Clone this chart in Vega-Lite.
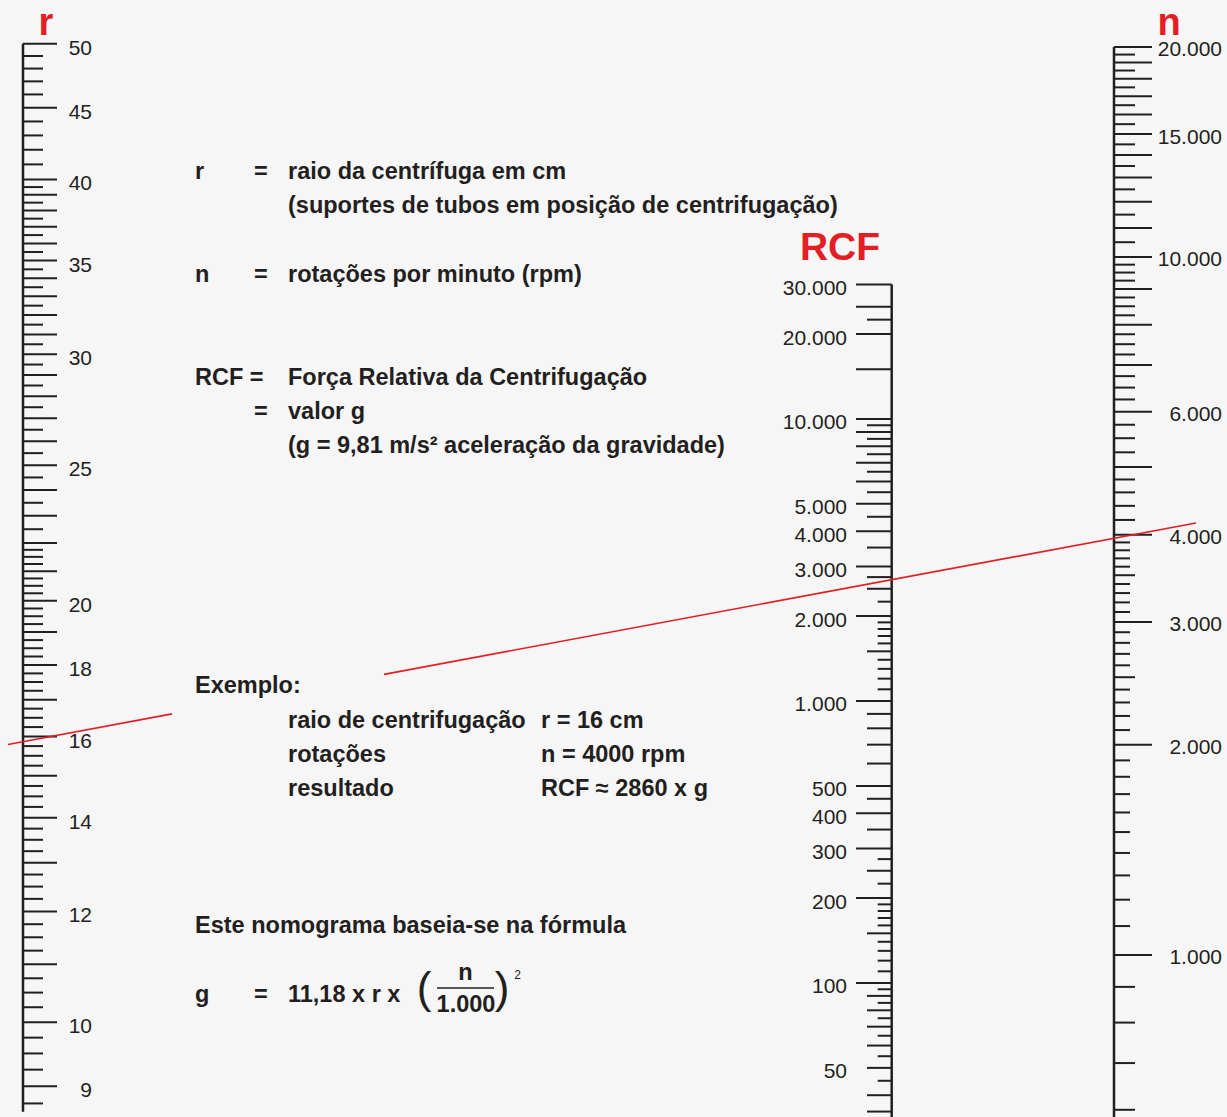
{
  "$schema": "https://vega.github.io/schema/vega-lite/v6.json",
  "width": 1227,
  "height": 1117,
  "padding": 0,
  "autosize": {"type": "none"},
  "background": "#f6f6f6",
  "config": {"view": {"stroke": null}, "text": {"font": "Liberation Sans", "color": "#231f20"}},
  "datasets": {
    "rTicks": [
      {"v":50,"k":"L"},{"v":45,"k":"L"},{"v":40,"k":"L"},{"v":39,"k":"L"},{"v":38,"k":"L"},{"v":37,"k":"L"},{"v":36,"k":"L"},{"v":35,"k":"L"},{"v":34,"k":"L"},{"v":33,"k":"L"},{"v":32,"k":"L"},{"v":31,"k":"L"},{"v":30,"k":"L"},{"v":29,"k":"L"},{"v":28,"k":"L"},{"v":27,"k":"L"},{"v":26,"k":"L"},{"v":25,"k":"L"},{"v":24,"k":"L"},{"v":23,"k":"L"},{"v":22,"k":"L"},{"v":21,"k":"L"},{"v":20,"k":"L"},{"v":19,"k":"L"},{"v":18,"k":"L"},{"v":17,"k":"L"},{"v":16,"k":"L"},{"v":15,"k":"L"},{"v":14,"k":"L"},{"v":13,"k":"L"},{"v":12,"k":"L"},{"v":11,"k":"L"},{"v":10,"k":"L"},{"v":9,"k":"L"},
      {"v":49,"k":"S"},{"v":48,"k":"S"},{"v":47,"k":"S"},{"v":46,"k":"S"},{"v":44,"k":"S"},{"v":43,"k":"S"},{"v":42,"k":"S"},{"v":41,"k":"S"},
      {"v":39.5,"k":"S"},{"v":38.5,"k":"S"},{"v":37.5,"k":"S"},{"v":36.5,"k":"S"},{"v":35.5,"k":"S"},{"v":34.5,"k":"S"},{"v":33.5,"k":"S"},{"v":32.5,"k":"S"},{"v":31.5,"k":"S"},{"v":30.5,"k":"S"},{"v":29.5,"k":"S"},{"v":28.5,"k":"S"},{"v":27.5,"k":"S"},{"v":26.5,"k":"S"},{"v":25.5,"k":"S"},{"v":24.5,"k":"S"},{"v":23.5,"k":"S"},{"v":22.5,"k":"S"},
      {"v":21.75,"k":"S"},{"v":21.5,"k":"S"},{"v":21.25,"k":"S"},{"v":20.75,"k":"S"},{"v":20.5,"k":"S"},{"v":20.25,"k":"S"},{"v":19.75,"k":"S"},{"v":19.5,"k":"S"},{"v":19.25,"k":"S"},{"v":18.75,"k":"S"},{"v":18.5,"k":"S"},{"v":18.25,"k":"S"},{"v":17.75,"k":"S"},{"v":17.5,"k":"S"},{"v":17.25,"k":"S"},{"v":16.75,"k":"S"},{"v":16.5,"k":"S"},{"v":16.25,"k":"S"},{"v":15.75,"k":"S"},{"v":15.5,"k":"S"},{"v":15.25,"k":"S"},{"v":14.75,"k":"S"},{"v":14.5,"k":"S"},{"v":14.25,"k":"S"},{"v":13.75,"k":"S"},{"v":13.5,"k":"S"},{"v":13.25,"k":"S"},{"v":12.75,"k":"S"},{"v":12.5,"k":"S"},{"v":12.25,"k":"S"},{"v":11.75,"k":"S"},{"v":11.5,"k":"S"},{"v":11.25,"k":"S"},{"v":10.75,"k":"S"},{"v":10.5,"k":"S"},{"v":10.25,"k":"S"},{"v":9.75,"k":"S"},{"v":9.5,"k":"S"},{"v":9.25,"k":"S"},{"v":8.75,"k":"S"}
    ],
    "rLabels": [
      {"v":50,"t":"50"},{"v":45,"t":"45"},{"v":40,"t":"40"},{"v":35,"t":"35"},{"v":30,"t":"30"},{"v":25,"t":"25"},{"v":20,"t":"20"},{"v":18,"t":"18"},{"v":16,"t":"16"},{"v":14,"t":"14"},{"v":12,"t":"12"},{"v":10,"t":"10"},{"v":9,"t":"9"}
    ],
    "cTicks": [
      {"v":30000,"k":"L"},{"v":25000,"k":"L"},{"v":20000,"k":"L"},{"v":15000,"k":"L"},{"v":10000,"k":"L"},{"v":9000,"k":"L"},{"v":8000,"k":"L"},{"v":7000,"k":"L"},{"v":6000,"k":"L"},{"v":5000,"k":"L"},{"v":4000,"k":"L"},{"v":3000,"k":"L"},{"v":2000,"k":"L"},{"v":1000,"k":"L"},{"v":500,"k":"L"},{"v":400,"k":"L"},{"v":300,"k":"L"},{"v":200,"k":"L"},{"v":100,"k":"L"},
      {"v":22500,"k":"M"},{"v":9500,"k":"M"},{"v":8500,"k":"M"},{"v":7500,"k":"M"},{"v":6500,"k":"M"},{"v":5500,"k":"M"},{"v":4500,"k":"M"},{"v":3500,"k":"M"},{"v":2750,"k":"M"},{"v":2500,"k":"M"},{"v":1500,"k":"M"},{"v":900,"k":"M"},{"v":800,"k":"M"},{"v":700,"k":"M"},{"v":600,"k":"M"},{"v":450,"k":"M"},{"v":350,"k":"M"},{"v":250,"k":"M"},{"v":150,"k":"M"},{"v":90,"k":"M"},{"v":80,"k":"M"},{"v":70,"k":"M"},{"v":60,"k":"M"},{"v":50,"k":"M"},{"v":40,"k":"M"},{"v":35,"k":"M"},
      {"v":2250,"k":"S"},{"v":1900,"k":"S"},{"v":1800,"k":"S"},{"v":1700,"k":"S"},{"v":1600,"k":"S"},{"v":1400,"k":"S"},{"v":1300,"k":"S"},{"v":1200,"k":"S"},{"v":1100,"k":"S"},{"v":275,"k":"S"},{"v":225,"k":"S"},{"v":190,"k":"S"},{"v":180,"k":"S"},{"v":170,"k":"S"},{"v":160,"k":"S"},{"v":140,"k":"S"},{"v":130,"k":"S"},{"v":120,"k":"S"},{"v":110,"k":"S"},{"v":95,"k":"S"},{"v":85,"k":"S"},{"v":75,"k":"S"},{"v":65,"k":"S"},{"v":55,"k":"S"},{"v":45,"k":"S"}
    ],
    "cLabels": [
      {"v":30000,"t":"30.000"},{"v":20000,"t":"20.000"},{"v":10000,"t":"10.000"},{"v":5000,"t":"5.000"},{"v":4000,"t":"4.000"},{"v":3000,"t":"3.000"},{"v":2000,"t":"2.000"},{"v":1000,"t":"1.000"},{"v":500,"t":"500"},{"v":400,"t":"400"},{"v":300,"t":"300"},{"v":200,"t":"200"},{"v":100,"t":"100"},{"v":50,"t":"50"}
    ],
    "nTicks": [
      {"v":20000,"k":"L"},{"v":19000,"k":"L"},{"v":18000,"k":"L"},{"v":17000,"k":"L"},{"v":16000,"k":"L"},{"v":15000,"k":"L"},{"v":14000,"k":"L"},{"v":13000,"k":"L"},{"v":12000,"k":"L"},{"v":11000,"k":"L"},{"v":10000,"k":"L"},{"v":9000,"k":"L"},{"v":8000,"k":"L"},{"v":7000,"k":"L"},{"v":6000,"k":"L"},{"v":5000,"k":"L"},{"v":4000,"k":"L"},{"v":3000,"k":"L"},{"v":2000,"k":"L"},{"v":1000,"k":"L"},
      {"v":19500,"k":"S"},{"v":18500,"k":"S"},{"v":17500,"k":"S"},{"v":16500,"k":"S"},{"v":15500,"k":"S"},{"v":14500,"k":"S"},{"v":13500,"k":"S"},{"v":12500,"k":"S"},{"v":11500,"k":"S"},{"v":10500,"k":"S"},
      {"v":9750,"k":"S"},{"v":9500,"k":"S"},{"v":9250,"k":"S"},{"v":8750,"k":"S"},{"v":8500,"k":"S"},{"v":8250,"k":"S"},{"v":7750,"k":"S"},{"v":7500,"k":"S"},{"v":7250,"k":"S"},{"v":6750,"k":"S"},{"v":6500,"k":"S"},{"v":6250,"k":"S"},{"v":5750,"k":"S"},{"v":5500,"k":"S"},{"v":5250,"k":"S"},
      {"v":4800,"k":"S"},{"v":4600,"k":"S"},{"v":4400,"k":"S"},{"v":4200,"k":"S"},{"v":3500,"k":"S"},{"v":2500,"k":"S"},{"v":900,"k":"S"},{"v":800,"k":"S"},{"v":700,"k":"S"},{"v":600,"k":"S"},
      {"v":3900,"k":"T"},{"v":3800,"k":"T"},{"v":3700,"k":"T"},{"v":3600,"k":"T"},{"v":3400,"k":"T"},{"v":3300,"k":"T"},{"v":3200,"k":"T"},{"v":3100,"k":"T"},
      {"v":2900,"k":"T"},{"v":2800,"k":"T"},{"v":2700,"k":"T"},{"v":2600,"k":"T"},{"v":2400,"k":"T"},{"v":2300,"k":"T"},{"v":2200,"k":"T"},{"v":2100,"k":"T"},
      {"v":1900,"k":"T"},{"v":1800,"k":"T"},{"v":1700,"k":"T"},{"v":1600,"k":"T"},{"v":1500,"k":"T"},{"v":1400,"k":"T"},{"v":1300,"k":"T"},{"v":1200,"k":"T"},{"v":1100,"k":"T"}
    ],
    "nLabels": [
      {"v":20000,"t":"20.000"},{"v":15000,"t":"15.000"},{"v":10000,"t":"10.000"},{"v":6000,"t":"6.000"},{"v":4000,"t":"4.000"},{"v":3000,"t":"3.000"},{"v":2000,"t":"2.000"},{"v":1000,"t":"1.000"}
    ],
    "notes": [
      {"row":0,"col":0,"t":"r"},{"row":0,"col":1,"t":"="},{"row":0,"col":2,"t":"raio da centrífuga em cm"},
      {"row":1,"col":2,"t":"(suportes de tubos em posição de centrifugação)"},
      {"row":3,"col":0,"t":"n"},{"row":3,"col":1,"t":"="},{"row":3,"col":2,"t":"rotações por minuto (rpm)"},
      {"row":6,"col":0,"t":"RCF ="},{"row":6,"col":2,"t":"Força Relativa da Centrifugação"},
      {"row":7,"col":1,"t":"="},{"row":7,"col":2,"t":"valor g"},
      {"row":8,"col":2,"t":"(g = 9,81 m/s² aceleração da gravidade)"},
      {"row":15,"col":0,"t":"Exemplo:"},
      {"row":16,"col":2,"t":"raio de centrifugação"},{"row":16,"col":3,"t":"r = 16 cm"},
      {"row":17,"col":2,"t":"rotações"},{"row":17,"col":3,"t":"n = 4000 rpm"},
      {"row":18,"col":2,"t":"resultado"},{"row":18,"col":3,"t":"RCF ≈ 2860 x g"},
      {"row":22,"col":0,"t":"Este nomograma baseia-se na fórmula"},
      {"row":24,"col":0,"t":"g"},{"row":24,"col":1,"t":"="},{"row":24,"col":2,"t":"11,18 x r x"}
    ],
    "one": [{}]
  },
  "layer": [
    {
      "layer": [
        {"data": {"name": "rTicks"}, "transform": [{"filter": "datum.k == 'L'"}],
         "mark": {"type": "rule", "strokeWidth": 2, "color": "#231f20"},
         "encoding": {
           "x": {"datum": 23, "type": "quantitative", "scale": {"domain": [0, 1227], "nice": false, "zero": false}, "axis": null},
           "x2": {"datum": 57},
           "y": {"field": "v", "type": "quantitative", "scale": {"type": "log", "domain": [8.557, 53.73], "nice": false}, "axis": null}}},
        {"data": {"name": "rTicks"}, "transform": [{"filter": "datum.k == 'S'"}],
         "mark": {"type": "rule", "strokeWidth": 2, "color": "#231f20"},
         "encoding": {
           "x": {"datum": 23, "type": "quantitative", "scale": {"domain": [0, 1227], "nice": false, "zero": false}, "axis": null},
           "x2": {"datum": 43},
           "y": {"field": "v", "type": "quantitative", "scale": {"type": "log", "domain": [8.557, 53.73], "nice": false}, "axis": null}}},
        {"data": {"name": "one"},
         "mark": {"type": "rule", "strokeWidth": 2.5, "color": "#231f20"},
         "encoding": {
           "x": {"datum": 23, "type": "quantitative", "scale": {"domain": [0, 1227], "nice": false, "zero": false}, "axis": null},
           "y": {"datum": 50, "type": "quantitative", "scale": {"type": "log", "domain": [8.557, 53.73], "nice": false}, "axis": null},
           "y2": {"datum": 8.63}}},
        {"data": {"name": "rLabels"},
         "mark": {"type": "text", "align": "right", "baseline": "middle", "fontSize": 21, "dy": 5},
         "encoding": {
           "x": {"datum": 92, "type": "quantitative", "scale": {"domain": [0, 1227], "nice": false, "zero": false}, "axis": null},
           "y": {"field": "v", "type": "quantitative", "scale": {"type": "log", "domain": [8.557, 53.73], "nice": false}, "axis": null},
           "text": {"field": "t"}}}
      ]
    },
    {
      "layer": [
        {"data": {"name": "cTicks"}, "transform": [{"filter": "datum.k == 'L'"}],
         "mark": {"type": "rule", "strokeWidth": 2, "color": "#231f20"},
         "encoding": {
           "x": {"datum": 856, "type": "quantitative", "scale": {"domain": [0, 1227], "nice": false, "zero": false}, "axis": null},
           "x2": {"datum": 891.7},
           "y": {"field": "v", "type": "quantitative", "scale": {"type": "log", "domain": [33.48, 306000], "nice": false}, "axis": null}}},
        {"data": {"name": "cTicks"}, "transform": [{"filter": "datum.k == 'M'"}],
         "mark": {"type": "rule", "strokeWidth": 2, "color": "#231f20"},
         "encoding": {
           "x": {"datum": 867, "type": "quantitative", "scale": {"domain": [0, 1227], "nice": false, "zero": false}, "axis": null},
           "x2": {"datum": 891.7},
           "y": {"field": "v", "type": "quantitative", "scale": {"type": "log", "domain": [33.48, 306000], "nice": false}, "axis": null}}},
        {"data": {"name": "cTicks"}, "transform": [{"filter": "datum.k == 'S'"}],
         "mark": {"type": "rule", "strokeWidth": 2, "color": "#231f20"},
         "encoding": {
           "x": {"datum": 877.7, "type": "quantitative", "scale": {"domain": [0, 1227], "nice": false, "zero": false}, "axis": null},
           "x2": {"datum": 891.7},
           "y": {"field": "v", "type": "quantitative", "scale": {"type": "log", "domain": [33.48, 306000], "nice": false}, "axis": null}}},
        {"data": {"name": "one"},
         "mark": {"type": "rule", "strokeWidth": 2.5, "color": "#231f20"},
         "encoding": {
           "x": {"datum": 891.7, "type": "quantitative", "scale": {"domain": [0, 1227], "nice": false, "zero": false}, "axis": null},
           "y": {"datum": 30000, "type": "quantitative", "scale": {"type": "log", "domain": [33.48, 306000], "nice": false}, "axis": null},
           "y2": {"datum": 33.48}}},
        {"data": {"name": "cLabels"},
         "mark": {"type": "text", "align": "right", "baseline": "middle", "fontSize": 21, "dy": 4.5},
         "encoding": {
           "x": {"datum": 847, "type": "quantitative", "scale": {"domain": [0, 1227], "nice": false, "zero": false}, "axis": null},
           "y": {"field": "v", "type": "quantitative", "scale": {"type": "log", "domain": [33.48, 306000], "nice": false}, "axis": null},
           "text": {"field": "t"}}}
      ]
    },
    {
      "layer": [
        {"data": {"name": "nTicks"}, "transform": [{"filter": "datum.k == 'L'"}],
         "mark": {"type": "rule", "strokeWidth": 2, "color": "#231f20"},
         "encoding": {
           "x": {"datum": 1114, "type": "quantitative", "scale": {"domain": [0, 1227], "nice": false, "zero": false}, "axis": null},
           "x2": {"datum": 1152},
           "y": {"field": "v", "type": "quantitative", "scale": {"type": "log", "domain": [585.9, 23346], "nice": false}, "axis": null}}},
        {"data": {"name": "nTicks"}, "transform": [{"filter": "datum.k == 'S'"}],
         "mark": {"type": "rule", "strokeWidth": 2, "color": "#231f20"},
         "encoding": {
           "x": {"datum": 1114, "type": "quantitative", "scale": {"domain": [0, 1227], "nice": false, "zero": false}, "axis": null},
           "x2": {"datum": 1135},
           "y": {"field": "v", "type": "quantitative", "scale": {"type": "log", "domain": [585.9, 23346], "nice": false}, "axis": null}}},
        {"data": {"name": "nTicks"}, "transform": [{"filter": "datum.k == 'T'"}],
         "mark": {"type": "rule", "strokeWidth": 2, "color": "#231f20"},
         "encoding": {
           "x": {"datum": 1114, "type": "quantitative", "scale": {"domain": [0, 1227], "nice": false, "zero": false}, "axis": null},
           "x2": {"datum": 1130},
           "y": {"field": "v", "type": "quantitative", "scale": {"type": "log", "domain": [585.9, 23346], "nice": false}, "axis": null}}},
        {"data": {"name": "one"},
         "mark": {"type": "rule", "strokeWidth": 2.5, "color": "#231f20"},
         "encoding": {
           "x": {"datum": 1114, "type": "quantitative", "scale": {"domain": [0, 1227], "nice": false, "zero": false}, "axis": null},
           "y": {"datum": 20000, "type": "quantitative", "scale": {"type": "log", "domain": [585.9, 23346], "nice": false}, "axis": null},
           "y2": {"datum": 585.9}}},
        {"data": {"name": "nLabels"},
         "mark": {"type": "text", "align": "right", "baseline": "middle", "fontSize": 21, "dy": 3.5},
         "encoding": {
           "x": {"datum": 1222, "type": "quantitative", "scale": {"domain": [0, 1227], "nice": false, "zero": false}, "axis": null},
           "y": {"field": "v", "type": "quantitative", "scale": {"type": "log", "domain": [585.9, 23346], "nice": false}, "axis": null},
           "text": {"field": "t"}}}
      ]
    },
    {
      "data": {"name": "notes"},
      "mark": {"type": "text", "align": "left", "baseline": "middle", "fontSize": 23.5, "fontWeight": "bold"},
      "encoding": {
        "x": {"field": "col", "type": "quantitative", "scale": {"domain": [0, 1, 2, 3], "range": [195, 254, 288, 541], "nice": false, "zero": false}, "axis": null},
        "y": {"field": "row", "type": "quantitative", "scale": {"domain": [0, 24], "range": [172, 995], "nice": false, "zero": false}, "axis": null},
        "text": {"field": "t"}
      }
    },
    {
      "data": {"name": "one"},
      "layer": [
        {"mark": {"type": "text", "text": "r", "align": "center", "baseline": "alphabetic", "fontSize": 38, "fontWeight": "bold", "color": "#e31e24"},
         "encoding": {
           "x": {"datum": 46, "type": "quantitative", "scale": {"domain": [0, 1227], "nice": false, "zero": false}, "axis": null},
           "y": {"datum": 35, "type": "quantitative", "scale": {"domain": [0, 1117], "reverse": true, "nice": false, "zero": false}, "axis": null}}},
        {"mark": {"type": "text", "text": "n", "align": "center", "baseline": "alphabetic", "fontSize": 38, "fontWeight": "bold", "color": "#e31e24"},
         "encoding": {
           "x": {"datum": 1169, "type": "quantitative", "scale": {"domain": [0, 1227], "nice": false, "zero": false}, "axis": null},
           "y": {"datum": 35, "type": "quantitative", "scale": {"domain": [0, 1117], "reverse": true, "nice": false, "zero": false}, "axis": null}}},
        {"mark": {"type": "text", "text": "RCF", "align": "center", "baseline": "alphabetic", "fontSize": 39, "fontWeight": "bold", "color": "#e31e24"},
         "encoding": {
           "x": {"datum": 840, "type": "quantitative", "scale": {"domain": [0, 1227], "nice": false, "zero": false}, "axis": null},
           "y": {"datum": 260, "type": "quantitative", "scale": {"domain": [0, 1117], "reverse": true, "nice": false, "zero": false}, "axis": null}}},
        {"mark": {"type": "text", "text": "(", "align": "center", "baseline": "alphabetic", "fontSize": 44},
         "encoding": {
           "x": {"datum": 424, "type": "quantitative", "scale": {"domain": [0, 1227], "nice": false, "zero": false}, "axis": null},
           "y": {"datum": 1003, "type": "quantitative", "scale": {"domain": [0, 1117], "reverse": true, "nice": false, "zero": false}, "axis": null}}},
        {"mark": {"type": "text", "text": ")", "align": "center", "baseline": "alphabetic", "fontSize": 44},
         "encoding": {
           "x": {"datum": 502, "type": "quantitative", "scale": {"domain": [0, 1227], "nice": false, "zero": false}, "axis": null},
           "y": {"datum": 1003, "type": "quantitative", "scale": {"domain": [0, 1117], "reverse": true, "nice": false, "zero": false}, "axis": null}}},
        {"mark": {"type": "text", "text": "n", "align": "center", "baseline": "alphabetic", "fontSize": 23.5, "fontWeight": "bold"},
         "encoding": {
           "x": {"datum": 465.5, "type": "quantitative", "scale": {"domain": [0, 1227], "nice": false, "zero": false}, "axis": null},
           "y": {"datum": 980, "type": "quantitative", "scale": {"domain": [0, 1117], "reverse": true, "nice": false, "zero": false}, "axis": null}}},
        {"mark": {"type": "text", "text": "1.000", "align": "center", "baseline": "alphabetic", "fontSize": 23.5, "fontWeight": "bold"},
         "encoding": {
           "x": {"datum": 466, "type": "quantitative", "scale": {"domain": [0, 1227], "nice": false, "zero": false}, "axis": null},
           "y": {"datum": 1012, "type": "quantitative", "scale": {"domain": [0, 1117], "reverse": true, "nice": false, "zero": false}, "axis": null}}},
        {"mark": {"type": "text", "text": "2", "align": "center", "baseline": "alphabetic", "fontSize": 12},
         "encoding": {
           "x": {"datum": 517.5, "type": "quantitative", "scale": {"domain": [0, 1227], "nice": false, "zero": false}, "axis": null},
           "y": {"datum": 979, "type": "quantitative", "scale": {"domain": [0, 1117], "reverse": true, "nice": false, "zero": false}, "axis": null}}},
        {"mark": {"type": "rule", "strokeWidth": 1.5, "color": "#231f20"},
         "encoding": {
           "x": {"datum": 437, "type": "quantitative", "scale": {"domain": [0, 1227], "nice": false, "zero": false}, "axis": null},
           "x2": {"datum": 494},
           "y": {"datum": 988, "type": "quantitative", "scale": {"domain": [0, 1117], "reverse": true, "nice": false, "zero": false}, "axis": null}}},
        {"mark": {"type": "rule", "strokeWidth": 1.6, "color": "#e31e24"},
         "encoding": {
           "x": {"datum": 8, "type": "quantitative", "scale": {"domain": [0, 1227], "nice": false, "zero": false}, "axis": null},
           "x2": {"datum": 172},
           "y": {"datum": 744.5, "type": "quantitative", "scale": {"domain": [0, 1117], "reverse": true, "nice": false, "zero": false}, "axis": null},
           "y2": {"datum": 713.9}}},
        {"mark": {"type": "rule", "strokeWidth": 1.6, "color": "#e31e24"},
         "encoding": {
           "x": {"datum": 384, "type": "quantitative", "scale": {"domain": [0, 1227], "nice": false, "zero": false}, "axis": null},
           "x2": {"datum": 1196},
           "y": {"datum": 674.4, "type": "quantitative", "scale": {"domain": [0, 1117], "reverse": true, "nice": false, "zero": false}, "axis": null},
           "y2": {"datum": 523}}}
      ]
    }
  ],
  "resolve": {"scale": {"x": "independent", "y": "independent"}}
}
